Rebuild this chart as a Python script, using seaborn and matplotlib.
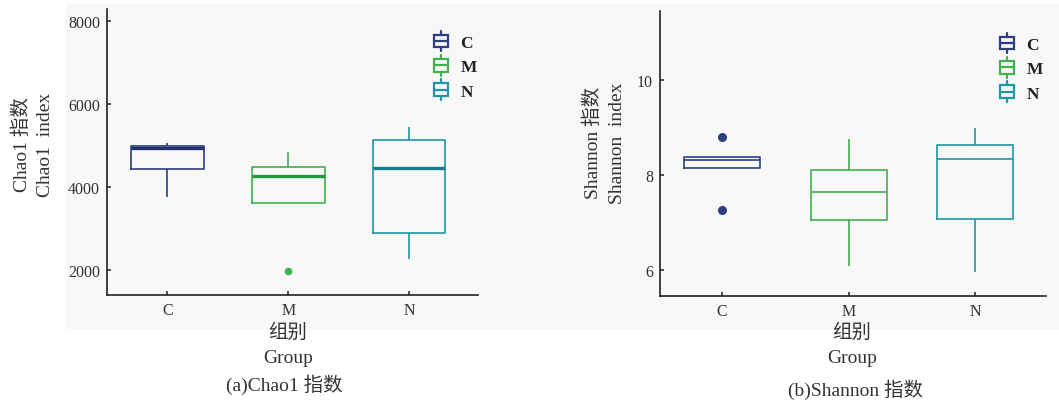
import numpy as np
import pandas as pd
import matplotlib
matplotlib.use("Agg")
import matplotlib.pyplot as plt
from matplotlib.patches import Rectangle
from matplotlib.lines import Line2D
from matplotlib.legend_handler import HandlerBase
import seaborn as sns

# ---- data: alpha-diversity per sample, five samples per group ----
groups = ["C", "M", "N"]
chao1_C = [3770, 4435, 4950, 4990, 5060]
chao1_M = [1970, 3615, 4265, 4490, 4850]
chao1_N = [2265, 2900, 4465, 5140, 5440]
shannon_C = [7.26, 8.14, 8.32, 8.375, 8.80]
shannon_M = [6.08, 7.04, 7.63, 8.106, 8.76]
shannon_N = [5.94, 7.06, 8.33, 8.635, 8.99]

chao1_ticks = [2000, 4000, 6000, 8000]
shannon_ticks = [6, 8, 10]

line_colors = {"C": "#2d3f7e", "M": "#42b14f", "N": "#2195a7"}
median_colors = {"C": "#24336e", "M": "#1f9a3c", "N": "#177c8c"}

chao1_df = pd.DataFrame({
    "group": np.repeat(groups, 5),
    "value": chao1_C + chao1_M + chao1_N,
})
shannon_df = pd.DataFrame({
    "group": np.repeat(groups, 5),
    "value": shannon_C + shannon_M + shannon_N,
})

sns.set_theme(style="white")
plt.rcParams["font.family"] = ["Liberation Serif", "Noto Sans CJK SC"]
plt.rcParams["axes.unicode_minus"] = False

W, H = 1059, 402
fig = plt.figure(figsize=(W / 100, H / 100), dpi=100)
fig.patch.set_facecolor("white")


def px(x, y):
    return x / W, 1 - y / H


# light panel behind both plots
bx0, by0 = px(66, 330)
fig.add_artist(Rectangle((bx0, by0), (W - 66) / W, (330 - 5) / H,
                         transform=fig.transFigure, facecolor="#f8f8f8",
                         edgecolor="none", zorder=-5))


class BoxHandler(HandlerBase):
    """Legend key drawn as a small vertical box with whisker stubs."""

    def __init__(self, color):
        super().__init__()
        self.color = color

    def create_artists(self, legend, orig_handle, xdescent, ydescent,
                       width, height, fontsize, trans):
        cx = xdescent + width / 2
        bw = 9.5
        bh = 9.0
        cy = height / 2 - ydescent
        kw = dict(color=self.color, lw=1.6, transform=trans)
        rect = Rectangle((cx - bw / 2, cy - bh / 2), bw, bh, facecolor="none",
                         edgecolor=self.color, lw=1.6, transform=trans)
        mid = Line2D([cx - bw / 2, cx + bw / 2], [cy, cy], **kw)
        top = Line2D([cx, cx], [cy + bh / 2, cy + bh / 2 + 3], **kw)
        bot = Line2D([cx, cx], [cy - bh / 2, cy - bh / 2 - 3], **kw)
        return [rect, mid, top, bot]


def draw_panel(ax, df, ticks, ylim, xlim, med_lw, thick_median, flier_size,
               leg_x):
    for g in groups:
        med_color = median_colors[g] if thick_median else line_colors[g]
        sns.boxplot(data=df[df["group"] == g], x="group", y="value",
                    order=groups, ax=ax, fill=False, width=0.6,
                    color=line_colors[g], linewidth=1.2, showcaps=False,
                    whis=1.5,
                    medianprops={"color": med_color, "linewidth": med_lw},
                    flierprops={"marker": "o", "markersize": flier_size,
                                "markerfacecolor": line_colors[g],
                                "markeredgecolor": line_colors[g]})
    ax.set_facecolor("none")
    ax.set_ylim(*ylim)
    ax.set_xlim(*xlim)
    ax.set_yticks(ticks)
    ax.set_yticklabels([str(t) for t in ticks])
    ax.set_xlabel("")
    ax.set_ylabel("")
    for side in ("top", "right"):
        ax.spines[side].set_visible(False)
    for side in ("left", "bottom"):
        ax.spines[side].set_color("#222222")
        ax.spines[side].set_linewidth(1.2)
    ax.tick_params(axis="both", direction="in", length=3, width=1.1,
                   color="#222222", labelcolor="#333333", labelsize=11.5,
                   left=True, bottom=True, pad=5)
    handles = [Rectangle((0, 0), 1, 1) for _ in groups]
    leg = ax.legend(handles, groups,
                    handler_map={h: BoxHandler(line_colors[g])
                                 for h, g in zip(handles, groups)},
                    loc="upper right", bbox_to_anchor=(leg_x, 0.915),
                    borderaxespad=0, borderpad=0,
                    frameon=False, handlelength=0.75, handleheight=1.0,
                    labelspacing=0.38, handletextpad=0.75,
                    prop={"size": 12.5, "weight": "bold"})
    for t in leg.get_texts():
        t.set_color("#222222")


# ---- left: Chao1 ----
l0, b0 = px(107, 296)
ax1 = fig.add_axes([l0, b0, (478 - 107) / W, (296 - 10) / H])
draw_panel(ax1, chao1_df, chao1_ticks, (1400, 8290), (-0.5, 2.57),
           med_lw=2.4, thick_median=True, flier_size=4.5, leg_x=0.997)

# ---- right: Shannon ----
l1, b1 = px(660, 297)
ax2 = fig.add_axes([l1, b1, (1046 - 660) / W, (297 - 12) / H])
draw_panel(ax2, shannon_df, shannon_ticks, (5.44, 11.47), (-0.49, 2.56),
           med_lw=1.2, thick_median=False, flier_size=5.5, leg_x=0.992)

# ---- axis titles and captions ----
txt = dict(color="#333333", fontsize=14)
fig.text(*px(22, 145), "Chao1 指数", rotation=90, ha="center", va="center", **txt)
fig.text(*px(45, 145), "Chao1  index", rotation=90, ha="center", va="center", **txt)
fig.text(*px(593, 143), "Shannon 指数", rotation=90, ha="center", va="center", **txt)
fig.text(*px(618, 143), "Shannon  index", rotation=90, ha="center", va="center", **txt)

for cx in (288, 852):
    fig.text(*px(cx, 333), "组别", ha="center", va="center", **txt)
    fig.text(*px(cx, 359), "Group", ha="center", va="center", **txt)

fig.text(*px(284, 385), "(a)Chao1 指数", ha="center", va="center", **txt)
fig.text(*px(856, 390), "(b)Shannon 指数", ha="center", va="center", **txt)

fig.savefig("out.png", dpi=100, facecolor="white")
